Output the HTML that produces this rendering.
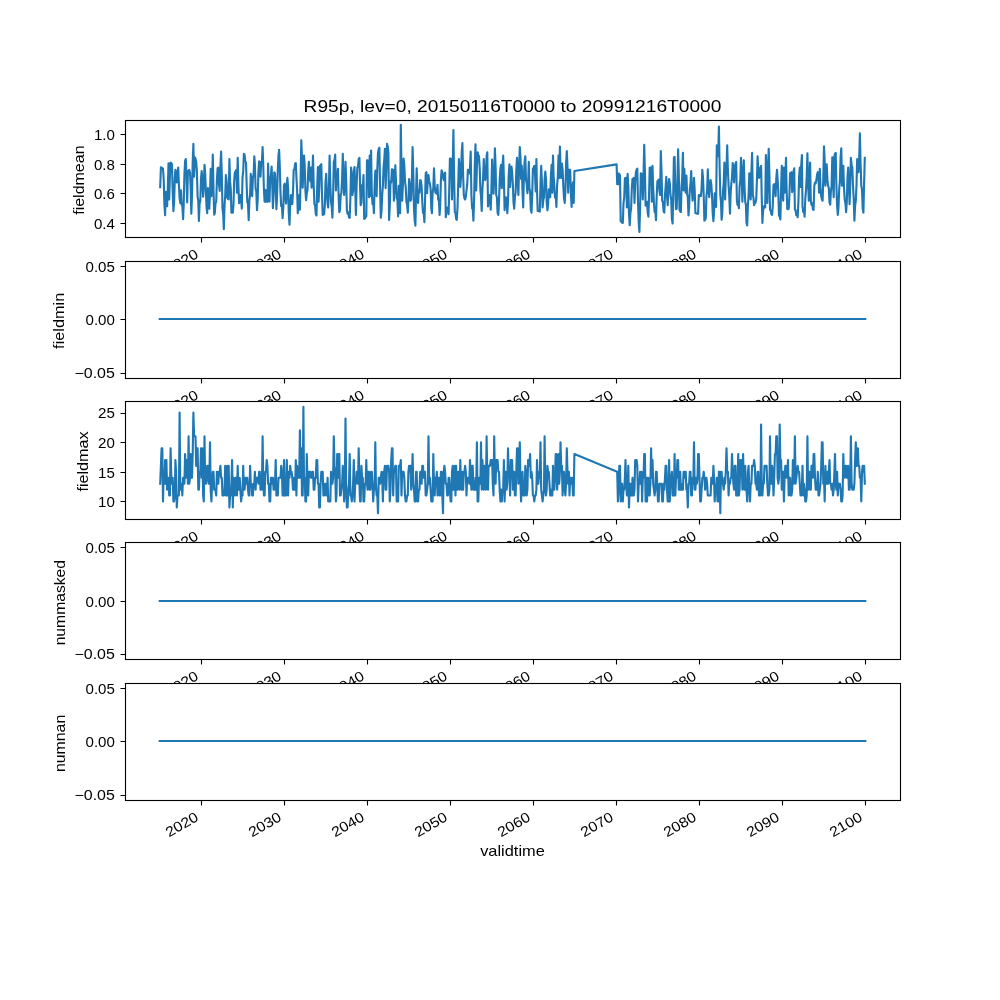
<!DOCTYPE html>
<html><head><meta charset="utf-8"><title>R95p</title>
<style>html,body{margin:0;padding:0;background:#fff}svg{display:block;will-change:transform}text{font-family:"Liberation Sans",sans-serif;fill:#000}.f{fill:none;stroke:#000;stroke-width:1.11}.d{fill:none;stroke:#1f77b4;stroke-linejoin:round;stroke-linecap:square}</style></head><body>
<svg width="1000" height="1000" viewBox="0 0 1000 1000">
<rect width="1000" height="1000" fill="#fff"/>
<g id="ax0">
<rect x="125.5" y="120.5" width="775.0" height="117.0" fill="#fff"/>
<path class="d" stroke-width="2.12" d="M160.2 187.2 160.9 167.4 161.6 167.5 162.3 168.4 163.0 168.5 163.7 179.1 164.4 204.7 165.1 215.2 165.8 191.8 166.4 202.1 167.1 206.1 167.8 189.7 168.5 163.3 169.2 199.5 169.9 176.1 170.6 162.6 171.3 163.1 172.0 164.4 172.7 192.8 173.4 211.2 174.1 202.4 174.8 178.6 175.4 169.9 176.1 173.4 176.8 182.4 177.5 171.8 178.2 167.6 178.9 184.5 179.6 197.9 180.3 203.2 181.0 190.4 181.7 205.0 182.3 204.6 183.1 219.1 183.7 204.7 184.4 175.2 185.1 160.8 185.8 159.1 186.5 175.7 187.2 202.4 187.9 172.2 188.6 170.5 189.3 169.9 190.0 172.7 190.7 188.2 191.3 213.8 192.0 195.4 192.7 162.0 193.4 143.7 194.1 176.7 194.8 157.3 195.5 158.6 196.2 161.9 196.9 171.7 197.6 196.4 198.3 201.2 198.9 220.9 199.6 203.5 200.3 201.0 201.0 178.5 201.7 171.0 202.4 178.8 203.1 196.7 203.8 185.7 204.5 164.8 205.2 173.7 205.9 192.7 206.6 207.4 207.2 213.2 207.9 188.1 208.6 202.9 209.3 208.6 210.0 193.7 210.7 168.7 211.4 196.1 212.1 180.3 212.8 154.5 213.5 189.5 214.2 214.6 214.8 213.1 215.5 203.2 216.2 201.8 216.9 180.0 217.6 168.2 218.3 167.6 219.0 184.3 219.7 191.0 220.4 166.3 221.1 151.6 221.8 175.1 222.5 208.6 223.2 214.4 223.8 229.2 224.5 206.4 225.2 195.7 225.9 175.0 226.6 181.4 227.3 197.8 228.0 199.0 228.7 199.5 229.4 159.1 230.1 181.9 230.8 189.8 231.4 212.6 232.1 212.6 232.8 212.6 233.5 204.1 234.2 180.7 234.9 172.2 235.6 171.5 236.3 169.9 237.0 192.7 237.7 157.9 238.4 185.5 239.1 203.2 239.7 200.9 240.4 195.0 241.1 198.8 241.8 208.6 242.5 177.9 243.2 170.9 243.9 153.9 244.6 154.9 245.3 161.5 246.0 162.5 246.7 185.8 247.3 202.3 248.0 203.8 248.7 220.3 249.4 199.8 250.1 194.3 250.8 173.9 251.5 189.9 252.2 196.1 252.9 177.8 253.6 174.5 254.3 156.2 254.9 164.7 255.6 188.3 256.3 191.8 257.0 210.3 257.7 199.0 258.4 172.7 259.1 161.3 259.8 172.4 260.5 176.7 261.2 161.8 261.9 162.0 262.6 147.1 263.2 163.2 263.9 189.3 264.6 201.8 265.3 189.8 266.0 201.8 266.7 190.4 267.4 201.8 268.1 163.6 268.8 187.7 269.5 201.8 270.2 179.0 270.9 175.5 271.6 166.5 272.2 182.3 272.9 208.1 273.6 195.1 274.3 172.2 275.0 173.3 275.7 186.2 276.4 209.2 277.1 194.6 277.8 169.9 278.5 155.5 279.1 149.9 279.8 166.3 280.5 192.7 281.2 206.2 281.9 204.8 282.6 218.3 283.3 207.1 284.0 185.8 284.7 183.6 285.4 197.9 286.1 203.5 286.8 185.7 287.4 177.9 288.1 188.4 288.8 214.0 289.5 224.6 290.2 204.8 290.9 195.0 291.6 201.5 292.3 204.1 293.0 192.0 293.7 169.9 294.4 169.1 295.1 163.8 295.8 163.0 296.4 176.7 297.1 190.0 297.8 213.2 298.5 200.1 299.2 195.0 299.9 209.8 300.6 180.0 301.3 140.2 302.0 158.9 302.7 187.6 303.4 166.6 304.0 155.6 304.7 165.4 305.4 190.3 306.1 200.1 306.8 193.1 307.5 190.4 308.2 171.2 308.9 161.9 309.6 175.8 310.3 181.3 311.0 167.6 311.6 187.6 312.3 176.6 313.0 155.6 313.7 184.9 314.4 204.1 315.1 205.4 315.8 214.2 316.5 215.5 317.2 186.2 317.9 167.0 318.6 201.8 319.2 188.8 319.9 165.9 320.6 165.4 321.3 164.2 322.0 194.6 322.7 214.9 323.4 214.5 324.1 214.3 324.8 205.8 325.5 182.4 326.2 173.9 326.9 195.0 327.6 204.0 328.2 207.5 328.9 186.6 329.6 155.6 330.3 183.7 331.0 201.8 331.7 206.3 332.4 217.8 333.1 194.8 333.8 161.9 334.5 159.8 335.2 154.5 335.9 190.4 336.5 178.4 337.2 180.7 337.9 168.7 338.6 195.4 339.3 212.1 340.0 209.9 340.7 194.9 341.4 192.7 342.1 178.3 342.8 153.9 343.4 179.4 344.1 195.0 344.8 183.4 345.5 161.9 346.2 181.1 346.9 210.3 347.6 213.8 348.3 212.4 349.0 217.5 349.7 217.8 350.4 197.7 351.1 167.6 351.8 176.3 352.4 195.0 353.1 190.7 353.8 171.3 354.5 167.0 355.2 186.0 355.9 214.9 356.6 186.2 357.3 167.6 358.0 166.5 358.7 159.0 359.4 157.9 360.1 186.6 360.7 205.2 361.4 202.7 362.1 185.1 362.8 187.6 363.5 175.0 364.2 218.9 364.9 218.6 365.6 216.9 366.3 216.6 367.0 160.2 367.6 160.6 368.3 160.8 369.0 197.2 369.7 155.6 370.4 196.1 371.1 150.5 371.8 192.7 372.5 204.0 373.2 201.8 373.9 213.2 374.6 187.1 375.3 171.0 375.9 170.4 376.6 196.1 377.3 169.4 378.0 152.8 378.7 149.1 379.4 147.7 380.1 187.7 380.8 217.8 381.5 211.4 382.2 195.0 382.9 185.7 383.6 166.5 384.2 161.5 384.9 148.8 385.6 188.1 386.3 170.9 387.0 143.7 387.7 146.2 388.4 152.8 389.1 220.0 389.8 205.7 390.5 181.3 391.2 182.4 391.9 169.3 392.5 169.5 393.2 169.9 393.9 200.7 394.6 188.0 395.3 165.3 396.0 181.3 396.7 198.0 397.4 199.7 398.1 216.4 398.8 185.8 399.5 204.5 400.1 213.2 400.8 124.8 401.5 167.8 402.2 200.7 402.9 184.6 403.6 158.5 404.3 164.9 405.0 181.3 405.7 187.0 406.4 201.8 407.1 204.8 407.8 212.6 408.4 200.8 409.1 179.0 409.8 185.1 410.5 200.7 411.2 199.5 411.9 178.3 412.6 147.1 413.3 172.9 414.0 208.6 414.7 220.9 415.4 225.7 416.1 191.9 416.7 168.2 417.4 190.6 418.1 202.9 418.8 190.3 419.5 192.7 420.2 180.1 420.9 180.7 421.6 186.6 422.3 201.8 423.0 213.0 423.6 210.9 424.4 222.1 425.0 202.7 425.7 173.3 426.4 172.2 427.1 193.2 427.8 180.1 428.5 175.0 429.2 181.2 429.9 183.6 430.6 188.4 431.3 208.3 431.9 213.2 432.6 193.2 433.3 188.2 434.0 168.2 434.7 185.4 435.4 192.7 436.1 193.0 436.8 193.8 437.5 184.7 438.2 199.8 438.9 199.8 439.6 214.9 440.2 205.1 440.9 180.3 441.6 170.4 442.3 172.2 443.0 176.7 443.7 180.1 444.4 174.8 445.1 172.7 445.8 217.2 446.5 210.2 447.2 207.5 447.9 209.4 448.6 214.3 449.2 191.4 449.9 158.5 450.6 158.6 451.3 159.1 452.0 199.5 452.7 169.8 453.4 130.0 454.1 176.0 454.8 212.1 455.5 212.9 456.1 218.9 456.8 219.8 457.5 207.8 458.2 185.8 458.9 159.1 459.6 168.0 460.3 187.0 461.0 177.3 461.7 152.7 462.4 143.1 463.1 174.0 463.8 195.0 464.4 198.2 465.1 199.5 465.8 197.0 466.5 190.4 467.2 184.7 467.9 169.9 468.6 172.3 469.3 173.3 470.0 167.2 470.7 151.6 471.4 195.0 472.1 208.5 472.7 207.1 473.4 220.6 474.1 200.2 474.8 164.7 475.5 144.2 476.2 190.4 476.9 166.3 477.6 152.2 478.3 155.1 479.0 156.2 479.7 168.3 480.4 190.4 481.0 196.2 481.7 210.9 482.4 189.4 483.1 177.9 483.8 159.1 484.5 174.2 485.2 180.1 485.9 175.8 486.6 156.5 487.3 152.2 488.0 206.4 488.6 198.2 489.3 195.0 490.0 199.1 490.7 209.8 491.4 189.7 492.1 159.6 492.8 181.7 493.5 193.8 494.2 176.0 494.9 148.2 495.6 166.6 496.2 195.0 496.9 197.2 497.6 212.7 498.3 214.9 499.0 201.9 499.7 179.0 500.4 168.7 501.1 164.8 501.8 188.1 502.5 166.9 503.2 155.6 503.9 178.0 504.6 210.3 505.2 200.9 505.9 197.2 506.6 201.7 507.3 213.2 508.0 201.9 508.7 175.5 509.4 164.2 510.1 187.0 510.8 172.2 511.5 166.5 512.1 171.9 512.9 185.8 513.5 202.2 514.2 208.6 514.9 197.2 515.6 192.7 516.3 170.3 517.0 157.9 517.7 181.4 518.4 195.0 519.1 166.0 519.8 147.1 520.5 158.0 521.1 179.0 521.8 165.9 522.5 191.7 523.2 207.5 523.9 176.7 524.6 161.9 525.3 156.2 526.0 180.1 526.7 183.8 527.4 193.2 528.1 182.6 528.8 161.9 529.4 188.1 530.1 191.3 530.8 209.5 531.5 212.6 532.2 195.7 532.9 168.7 533.6 167.9 534.3 165.9 535.0 173.7 535.7 191.5 536.4 159.1 537.0 190.0 537.7 210.9 538.4 211.0 539.1 211.4 539.8 211.5 540.5 183.7 541.2 165.9 541.9 181.7 542.6 207.5 543.3 200.1 544.0 197.2 544.6 179.4 545.3 171.6 546.0 179.5 546.7 202.4 547.4 210.3 548.1 204.4 548.8 189.3 549.5 191.5 550.2 197.2 550.9 176.0 551.6 164.8 552.3 192.7 553.0 155.6 553.6 175.7 554.3 185.8 555.0 197.5 555.7 195.3 556.4 206.9 557.1 184.8 557.8 177.7 558.5 155.6 559.2 177.9 559.9 146.5 560.5 167.2 561.2 177.9 561.9 163.6 562.6 169.8 563.3 185.8 564.0 198.2 564.7 202.9 565.4 190.7 566.1 163.4 566.8 151.1 567.5 166.9 568.2 192.7 568.9 169.9 569.5 169.9 570.2 169.9 570.9 193.4 571.6 206.9 572.3 189.7 573.0 182.4 573.7 202.9 574.4 171.0 616.6 164.4 617.2 184.1 617.9 173.3 618.6 184.1 619.3 173.9 620.0 175.6 620.7 221.2 621.4 221.4 622.1 222.7 622.8 222.9 623.5 203.1 624.2 198.2 624.9 178.4 625.5 178.0 626.2 177.9 626.9 207.5 627.6 173.9 628.3 186.0 629.0 213.1 629.7 225.2 630.4 213.3 631.1 208.6 631.8 188.8 632.5 179.0 633.1 178.7 633.8 177.9 634.5 202.9 635.2 182.6 635.9 172.2 636.6 169.7 637.3 168.7 638.0 201.8 638.7 221.9 639.4 232.0 640.1 207.7 640.8 173.3 641.5 173.6 642.1 174.4 642.8 199.5 643.5 177.2 644.2 144.8 644.9 170.3 645.6 205.8 646.3 204.7 647.0 201.8 647.7 212.5 648.4 216.6 649.0 197.1 649.7 167.6 650.4 167.6 651.1 167.6 651.8 201.8 652.5 165.9 653.2 188.8 653.9 201.8 654.6 212.0 655.3 210.1 656.0 220.3 656.7 195.8 657.4 181.3 658.0 180.8 658.7 179.6 659.4 190.7 660.1 195.0 660.8 151.1 661.5 170.9 662.2 200.7 662.9 202.0 663.6 211.3 664.3 212.6 665.0 194.8 665.6 187.0 666.3 176.7 667.0 196.0 667.7 205.2 668.4 187.1 669.1 179.0 669.8 183.5 670.5 195.0 671.2 199.5 671.9 219.0 672.6 223.5 673.2 195.4 673.9 157.3 674.6 156.8 675.3 188.0 676.0 209.2 676.7 208.6 677.4 184.0 678.1 149.4 678.8 174.6 679.5 209.8 680.2 211.4 680.9 212.1 681.5 187.3 682.2 177.5 682.9 152.8 683.6 190.4 684.3 168.7 685.0 185.7 685.7 192.7 686.4 175.6 687.1 193.9 687.8 197.2 688.5 215.5 689.1 207.4 689.8 189.3 690.5 184.2 691.2 171.0 691.9 190.8 692.6 200.7 693.3 194.3 694.0 177.9 694.7 190.5 695.4 213.2 696.1 213.2 696.8 213.6 697.5 213.5 698.1 213.8 698.8 195.0 699.5 195.1 700.2 196.0 700.9 196.1 701.6 188.0 702.3 169.9 703.0 177.4 703.7 195.0 704.4 220.6 705.1 219.8 705.8 217.8 706.4 196.6 707.1 190.5 707.8 169.3 708.5 188.3 709.2 197.2 709.9 184.9 710.6 180.1 711.3 184.3 712.0 195.0 712.7 213.1 713.4 221.2 714.0 212.2 714.7 193.2 715.4 203.1 716.1 206.9 716.8 145.4 717.5 148.4 718.2 156.2 718.9 126.6 719.6 165.8 720.3 195.0 721.0 202.4 721.6 219.8 722.3 212.7 723.0 190.6 723.7 183.6 724.4 162.5 725.1 199.5 725.8 176.5 726.5 168.4 727.2 145.4 727.9 170.6 728.6 185.8 729.2 194.8 730.0 213.8 730.6 193.7 731.3 183.6 732.0 177.8 732.7 163.0 733.4 168.5 734.1 182.4 734.8 167.6 735.5 163.5 736.2 161.9 736.9 200.7 737.5 204.8 738.2 204.0 738.9 208.1 739.6 186.3 740.3 179.6 741.0 157.9 741.7 174.9 742.4 201.8 743.1 176.0 743.8 160.2 744.5 186.0 745.2 201.8 745.9 204.7 746.5 222.6 747.2 225.5 747.9 205.2 748.6 195.0 749.3 173.3 750.0 191.4 750.7 199.5 751.4 171.2 752.1 152.8 752.8 195.0 753.5 197.8 754.1 205.2 754.8 202.1 755.5 202.7 756.2 199.5 756.9 181.3 757.6 156.2 758.3 171.8 759.0 177.9 759.7 176.5 760.4 167.2 761.1 165.9 761.8 199.4 762.4 222.9 763.1 211.0 763.8 206.4 764.5 206.7 765.2 207.5 765.9 155.1 766.6 174.0 767.3 202.9 768.0 170.9 768.7 148.8 769.4 174.3 770.0 209.8 770.7 210.4 771.4 214.3 772.1 214.9 772.8 205.1 773.5 185.3 774.2 184.1 774.9 187.5 775.6 196.1 776.3 178.0 777.0 169.9 777.6 179.0 778.3 192.2 779.0 215.5 779.7 216.6 780.4 219.5 781.1 187.7 781.8 165.9 782.5 188.3 783.2 200.7 783.9 167.6 784.6 192.7 785.3 180.3 786.0 157.9 786.6 188.6 787.3 209.2 788.0 209.1 788.7 208.6 789.4 196.0 790.1 173.3 790.8 173.0 791.5 172.2 792.2 192.1 792.9 189.1 793.6 171.2 794.2 168.2 794.9 209.8 795.6 210.0 796.3 215.1 797.0 213.7 797.7 217.2 798.4 201.9 799.1 176.7 799.8 167.6 800.5 187.0 801.2 166.0 801.9 155.1 802.5 205.8 803.2 211.8 803.9 210.6 804.6 216.6 805.3 198.5 806.0 190.4 806.7 176.9 807.4 153.3 808.1 182.0 808.8 200.7 809.5 176.6 810.1 162.5 810.8 200.7 811.5 204.9 812.2 203.2 812.9 209.5 813.6 209.8 814.3 185.8 815.0 182.7 815.7 183.3 816.4 180.1 817.1 174.4 817.8 172.2 818.5 177.9 819.1 192.7 819.8 168.7 820.5 187.4 821.2 196.1 821.9 199.4 822.6 200.7 823.3 178.4 824.0 146.2 824.7 161.0 825.4 185.8 826.0 170.2 826.7 164.2 827.4 179.8 828.1 185.8 828.8 188.0 829.5 202.5 830.2 204.7 830.9 191.1 831.6 185.8 832.3 157.3 833.0 182.3 833.7 197.2 834.4 156.2 835.0 153.7 835.7 152.8 836.4 185.8 837.1 205.4 837.8 214.9 838.5 207.1 839.2 189.3 839.9 180.6 840.6 156.9 841.3 148.2 842.0 185.8 842.6 171.5 843.3 165.9 844.0 187.7 844.7 199.5 845.4 203.0 846.1 212.1 846.8 202.2 847.5 177.4 848.2 167.6 848.9 185.8 849.6 204.1 850.2 186.0 850.9 157.9 851.6 164.9 852.3 167.6 853.0 185.8 853.7 198.2 854.4 220.6 855.1 206.2 855.8 200.7 856.5 184.9 857.2 159.1 857.9 162.7 858.5 172.2 859.2 157.8 859.9 133.4 860.6 164.6 861.3 185.8 862.0 189.8 862.7 208.7 863.4 212.6 864.1 183.6 864.8 157.9"/>
<rect class="f" x="125.5" y="120.5" width="775.0" height="117.0"/>
<path class="f" d="M125.5 134.5h-5 M125.5 164.5h-5 M125.5 193.5h-5 M125.5 223.5h-5"/>
<text x="93.92" y="139.65" font-size="14.1" textLength="20.98" lengthAdjust="spacingAndGlyphs">1.0</text>
<text x="93.92" y="169.65" font-size="14.1" textLength="20.98" lengthAdjust="spacingAndGlyphs">0.8</text>
<text x="93.92" y="198.65" font-size="14.1" textLength="20.98" lengthAdjust="spacingAndGlyphs">0.6</text>
<text x="93.92" y="228.65" font-size="14.1" textLength="20.98" lengthAdjust="spacingAndGlyphs">0.4</text>
<text transform="translate(84.00 180.12) rotate(-90)" x="-34.68" y="0" font-size="14.1" textLength="69.36" lengthAdjust="spacingAndGlyphs">fieldmean</text>
<path class="f" d="M201.5 237.5v5 M284.5 237.5v5 M367.5 237.5v5 M450.5 237.5v5 M533.5 237.5v5 M616.5 237.5v5 M699.5 237.5v5 M782.5 237.5v5 M865.5 237.5v5"/>
<text transform="translate(199.50 256.80) rotate(-30)" x="-35.35" y="0" font-size="14.1" textLength="35.35" lengthAdjust="spacingAndGlyphs">2020</text>
<text transform="translate(282.50 256.80) rotate(-30)" x="-35.35" y="0" font-size="14.1" textLength="35.35" lengthAdjust="spacingAndGlyphs">2030</text>
<text transform="translate(365.50 256.80) rotate(-30)" x="-35.35" y="0" font-size="14.1" textLength="35.35" lengthAdjust="spacingAndGlyphs">2040</text>
<text transform="translate(448.50 256.80) rotate(-30)" x="-35.35" y="0" font-size="14.1" textLength="35.35" lengthAdjust="spacingAndGlyphs">2050</text>
<text transform="translate(531.50 256.80) rotate(-30)" x="-35.35" y="0" font-size="14.1" textLength="35.35" lengthAdjust="spacingAndGlyphs">2060</text>
<text transform="translate(614.50 256.80) rotate(-30)" x="-35.35" y="0" font-size="14.1" textLength="35.35" lengthAdjust="spacingAndGlyphs">2070</text>
<text transform="translate(697.50 256.80) rotate(-30)" x="-35.35" y="0" font-size="14.1" textLength="35.35" lengthAdjust="spacingAndGlyphs">2080</text>
<text transform="translate(780.50 256.80) rotate(-30)" x="-35.35" y="0" font-size="14.1" textLength="35.35" lengthAdjust="spacingAndGlyphs">2090</text>
<text transform="translate(863.50 256.80) rotate(-30)" x="-35.35" y="0" font-size="14.1" textLength="35.35" lengthAdjust="spacingAndGlyphs">2100</text>
</g>
<g id="ax1">
<rect x="125.5" y="261.5" width="775.0" height="117.0" fill="#fff"/>
<path class="d" stroke-width="2.12" d="M159.73 319.00H865.27"/>
<rect class="f" x="125.5" y="261.5" width="775.0" height="117.0"/>
<path class="f" d="M125.5 266.5h-5 M125.5 319.5h-5 M125.5 373.5h-5"/>
<text x="85.52" y="271.65" font-size="14.1" textLength="29.38" lengthAdjust="spacingAndGlyphs">0.05</text>
<text x="85.52" y="324.65" font-size="14.1" textLength="29.38" lengthAdjust="spacingAndGlyphs">0.00</text>
<text x="74.46" y="377.65" font-size="14.1" textLength="40.44" lengthAdjust="spacingAndGlyphs">−0.05</text>
<text transform="translate(63.60 320.81) rotate(-90)" x="-28.08" y="0" font-size="14.1" textLength="56.16" lengthAdjust="spacingAndGlyphs">fieldmin</text>
<path class="f" d="M201.5 378.5v5 M284.5 378.5v5 M367.5 378.5v5 M450.5 378.5v5 M533.5 378.5v5 M616.5 378.5v5 M699.5 378.5v5 M782.5 378.5v5 M865.5 378.5v5"/>
<text transform="translate(199.50 397.80) rotate(-30)" x="-35.35" y="0" font-size="14.1" textLength="35.35" lengthAdjust="spacingAndGlyphs">2020</text>
<text transform="translate(282.50 397.80) rotate(-30)" x="-35.35" y="0" font-size="14.1" textLength="35.35" lengthAdjust="spacingAndGlyphs">2030</text>
<text transform="translate(365.50 397.80) rotate(-30)" x="-35.35" y="0" font-size="14.1" textLength="35.35" lengthAdjust="spacingAndGlyphs">2040</text>
<text transform="translate(448.50 397.80) rotate(-30)" x="-35.35" y="0" font-size="14.1" textLength="35.35" lengthAdjust="spacingAndGlyphs">2050</text>
<text transform="translate(531.50 397.80) rotate(-30)" x="-35.35" y="0" font-size="14.1" textLength="35.35" lengthAdjust="spacingAndGlyphs">2060</text>
<text transform="translate(614.50 397.80) rotate(-30)" x="-35.35" y="0" font-size="14.1" textLength="35.35" lengthAdjust="spacingAndGlyphs">2070</text>
<text transform="translate(697.50 397.80) rotate(-30)" x="-35.35" y="0" font-size="14.1" textLength="35.35" lengthAdjust="spacingAndGlyphs">2080</text>
<text transform="translate(780.50 397.80) rotate(-30)" x="-35.35" y="0" font-size="14.1" textLength="35.35" lengthAdjust="spacingAndGlyphs">2090</text>
<text transform="translate(863.50 397.80) rotate(-30)" x="-35.35" y="0" font-size="14.1" textLength="35.35" lengthAdjust="spacingAndGlyphs">2100</text>
</g>
<g id="ax2">
<rect x="125.5" y="401.5" width="775.0" height="118.0" fill="#fff"/>
<path class="d" stroke-width="2.12" d="M160.2 483.7 160.9 465.9 161.6 448.2 162.3 448.2 163.0 501.4 163.7 471.8 164.4 483.7 165.1 460.0 165.8 483.7 166.4 460.0 167.1 489.6 167.8 477.8 168.5 477.8 169.2 495.5 169.9 495.5 170.6 448.2 171.3 477.8 172.0 483.7 172.7 477.8 173.4 501.4 174.1 501.4 174.8 495.5 175.4 460.0 176.1 471.8 176.8 507.4 177.5 495.5 178.2 495.5 178.9 495.5 179.6 412.6 180.3 489.6 181.0 489.6 181.7 483.7 182.3 495.5 183.1 477.8 183.7 483.7 184.4 483.7 185.1 454.1 185.8 477.8 186.5 460.0 187.2 460.0 187.9 483.7 188.6 436.3 189.3 483.7 190.0 477.8 190.7 454.1 191.3 477.8 192.0 477.8 192.7 454.1 193.4 412.6 194.1 436.3 194.8 436.3 195.5 436.3 196.2 465.9 196.9 448.2 197.6 448.2 198.3 489.6 198.9 489.6 199.6 471.8 200.3 471.8 201.0 448.2 201.7 477.8 202.4 448.2 203.1 495.5 203.8 501.4 204.5 436.3 205.2 483.7 205.9 483.7 206.6 477.8 207.2 465.9 207.9 465.9 208.6 483.7 209.3 483.7 210.0 442.2 210.7 489.6 211.4 501.4 212.1 483.7 212.8 471.8 213.5 471.8 214.2 489.6 214.8 489.6 215.5 489.6 216.2 495.5 216.9 471.8 217.6 471.8 218.3 483.7 219.0 471.8 219.7 471.8 220.4 465.9 221.1 477.8 221.8 477.8 222.5 495.5 223.2 495.5 223.8 495.5 224.5 489.6 225.2 465.9 225.9 495.5 226.6 495.5 227.3 465.9 228.0 495.5 228.7 465.9 229.4 507.4 230.1 495.5 230.8 495.5 231.4 483.7 232.1 460.0 232.8 507.4 233.5 477.8 234.2 495.5 234.9 495.5 235.6 477.8 236.3 477.8 237.0 495.5 237.7 465.9 238.4 489.6 239.1 489.6 239.7 477.8 240.4 489.6 241.1 501.4 241.8 495.5 242.5 495.5 243.2 465.9 243.9 489.6 244.6 489.6 245.3 477.8 246.0 477.8 246.7 483.7 247.3 477.8 248.0 489.6 248.7 495.5 249.4 495.5 250.1 465.9 250.8 483.7 251.5 483.7 252.2 495.5 252.9 495.5 253.6 483.7 254.3 483.7 254.9 471.8 255.6 489.6 256.3 477.8 257.0 477.8 257.7 477.8 258.4 483.7 259.1 471.8 259.8 471.8 260.5 489.6 261.2 489.6 261.9 489.6 262.6 436.3 263.2 477.8 263.9 495.5 264.6 495.5 265.3 471.8 266.0 471.8 266.7 460.0 267.4 465.9 268.1 483.7 268.8 483.7 269.5 501.4 270.2 501.4 270.9 477.8 271.6 477.8 272.2 483.7 272.9 477.8 273.6 489.6 274.3 489.6 275.0 483.7 275.7 460.0 276.4 495.5 277.1 495.5 277.8 495.5 278.5 477.8 279.1 477.8 279.8 477.8 280.5 477.8 281.2 465.9 281.9 471.8 282.6 495.5 283.3 495.5 284.0 460.0 284.7 495.5 285.4 495.5 286.1 495.5 286.8 460.0 287.4 489.6 288.1 495.5 288.8 471.8 289.5 477.8 290.2 465.9 290.9 471.8 291.6 471.8 292.3 477.8 293.0 489.6 293.7 477.8 294.4 489.6 295.1 489.6 295.8 460.0 296.4 495.5 297.1 465.9 297.8 477.8 298.5 477.8 299.2 477.8 299.9 430.4 300.6 477.8 301.3 448.2 302.0 495.5 302.7 495.5 303.4 406.7 304.0 483.7 304.7 477.8 305.4 501.4 306.1 501.4 306.8 454.1 307.5 483.7 308.2 495.5 308.9 471.8 309.6 471.8 310.3 471.8 311.0 477.8 311.6 477.8 312.3 471.8 313.0 471.8 313.7 489.6 314.4 489.6 315.1 477.8 315.8 477.8 316.5 460.0 317.2 460.0 317.9 483.7 318.6 483.7 319.2 507.4 319.9 507.4 320.6 483.7 321.3 471.8 322.0 471.8 322.7 471.8 323.4 495.5 324.1 495.5 324.8 483.7 325.5 483.7 326.2 495.5 326.9 495.5 327.6 477.8 328.2 501.4 328.9 501.4 329.6 501.4 330.3 501.4 331.0 471.8 331.7 483.7 332.4 483.7 333.1 477.8 333.8 436.3 334.5 465.9 335.2 471.8 335.9 501.4 336.5 495.5 337.2 454.1 337.9 477.8 338.6 454.1 339.3 454.1 340.0 495.5 340.7 495.5 341.4 489.6 342.1 483.7 342.8 465.9 343.4 471.8 344.1 501.4 344.8 489.6 345.5 418.6 346.2 489.6 346.9 507.4 347.6 507.4 348.3 489.6 349.0 483.7 349.7 454.1 350.4 495.5 351.1 495.5 351.8 501.4 352.4 495.5 353.1 483.7 353.8 460.0 354.5 501.4 355.2 483.7 355.9 483.7 356.6 471.8 357.3 477.8 358.0 483.7 358.7 448.2 359.4 483.7 360.1 501.4 360.7 501.4 361.4 465.9 362.1 477.8 362.8 477.8 363.5 501.4 364.2 501.4 364.9 483.7 365.6 483.7 366.3 460.0 367.0 483.7 367.6 489.6 368.3 471.8 369.0 471.8 369.7 489.6 370.4 489.6 371.1 471.8 371.8 471.8 372.5 483.7 373.2 501.4 373.9 489.6 374.6 489.6 375.3 442.2 375.9 483.7 376.6 495.5 377.3 495.5 378.0 513.3 378.7 477.8 379.4 477.8 380.1 483.7 380.8 477.8 381.5 471.8 382.2 477.8 382.9 501.4 383.6 471.8 384.2 471.8 384.9 465.9 385.6 489.6 386.3 489.6 387.0 465.9 387.7 465.9 388.4 465.9 389.1 471.8 389.8 501.4 390.5 489.6 391.2 460.0 391.9 448.2 392.5 448.2 393.2 495.5 393.9 471.8 394.6 471.8 395.3 465.9 396.0 465.9 396.7 501.4 397.4 501.4 398.1 501.4 398.8 465.9 399.5 465.9 400.1 465.9 400.8 460.0 401.5 495.5 402.2 471.8 402.9 471.8 403.6 471.8 404.3 477.8 405.0 495.5 405.7 501.4 406.4 501.4 407.1 495.5 407.8 495.5 408.4 471.8 409.1 465.9 409.8 471.8 410.5 465.9 411.2 489.6 411.9 477.8 412.6 454.1 413.3 483.7 414.0 489.6 414.7 501.4 415.4 501.4 416.1 471.8 416.7 471.8 417.4 501.4 418.1 501.4 418.8 489.6 419.5 489.6 420.2 471.8 420.9 471.8 421.6 483.7 422.3 465.9 423.0 465.9 423.6 477.8 424.4 471.8 425.0 471.8 425.7 495.5 426.4 495.5 427.1 489.6 427.8 483.7 428.5 436.3 429.2 483.7 429.9 477.8 430.6 489.6 431.3 501.4 431.9 501.4 432.6 501.4 433.3 454.1 434.0 483.7 434.7 495.5 435.4 477.8 436.1 483.7 436.8 471.8 437.5 495.5 438.2 477.8 438.9 477.8 439.6 495.5 440.2 495.5 440.9 471.8 441.6 471.8 442.3 495.5 443.0 513.3 443.7 471.8 444.4 465.9 445.1 471.8 445.8 483.7 446.5 483.7 447.2 495.5 447.9 495.5 448.6 477.8 449.2 477.8 449.9 489.6 450.6 501.4 451.3 501.4 452.0 471.8 452.7 465.9 453.4 489.6 454.1 489.6 454.8 465.9 455.5 495.5 456.1 465.9 456.8 489.6 457.5 489.6 458.2 471.8 458.9 471.8 459.6 489.6 460.3 460.0 461.0 483.7 461.7 489.6 462.4 471.8 463.1 489.6 463.8 471.8 464.4 471.8 465.1 465.9 465.8 471.8 466.5 495.5 467.2 477.8 467.9 477.8 468.6 477.8 469.3 483.7 470.0 460.0 470.7 477.8 471.4 489.6 472.1 465.9 472.7 465.9 473.4 489.6 474.1 489.6 474.8 489.6 475.5 477.8 476.2 489.6 476.9 442.2 477.6 501.4 478.3 501.4 479.0 477.8 479.7 477.8 480.4 483.7 481.0 442.2 481.7 489.6 482.4 460.0 483.1 477.8 483.8 489.6 484.5 465.9 485.2 465.9 485.9 489.6 486.6 436.3 487.3 477.8 488.0 489.6 488.6 465.9 489.3 465.9 490.0 465.9 490.7 460.0 491.4 460.0 492.1 460.0 492.8 483.7 493.5 495.5 494.2 436.3 494.9 477.8 495.6 483.7 496.2 460.0 496.9 460.0 497.6 460.0 498.3 471.8 499.0 471.8 499.7 489.6 500.4 501.4 501.1 489.6 501.8 501.4 502.5 489.6 503.2 489.6 503.9 460.0 504.6 501.4 505.2 483.7 505.9 471.8 506.6 489.6 507.3 483.7 508.0 448.2 508.7 471.8 509.4 471.8 510.1 495.5 510.8 460.0 511.5 460.0 512.1 460.0 512.9 489.6 513.5 471.8 514.2 471.8 514.9 495.5 515.6 495.5 516.3 471.8 517.0 448.2 517.7 448.2 518.4 483.7 519.1 477.8 519.8 442.2 520.5 483.7 521.1 501.4 521.8 477.8 522.5 471.8 523.2 495.5 523.9 495.5 524.6 495.5 525.3 465.9 526.0 471.8 526.7 495.5 527.4 489.6 528.1 460.0 528.8 460.0 529.4 465.9 530.1 454.1 530.8 477.8 531.5 471.8 532.2 477.8 532.9 495.5 533.6 495.5 534.3 501.4 535.0 495.5 535.7 495.5 536.4 489.6 537.0 460.0 537.7 483.7 538.4 483.7 539.1 471.8 539.8 477.8 540.5 442.2 541.2 489.6 541.9 495.5 542.6 501.4 543.3 495.5 544.0 489.6 544.6 436.3 545.3 483.7 546.0 495.5 546.7 489.6 547.4 465.9 548.1 471.8 548.8 471.8 549.5 483.7 550.2 495.5 550.9 495.5 551.6 489.6 552.3 495.5 553.0 465.9 553.6 489.6 554.3 489.6 555.0 477.8 555.7 454.1 556.4 454.1 557.1 489.6 557.8 477.8 558.5 454.1 559.2 483.7 559.9 471.8 560.5 442.2 561.2 465.9 561.9 465.9 562.6 495.5 563.3 471.8 564.0 471.8 564.7 489.6 565.4 495.5 566.1 483.7 566.8 448.2 567.5 471.8 568.2 483.7 568.9 471.8 569.5 495.5 570.2 477.8 570.9 477.8 571.6 483.7 572.3 477.8 573.0 495.5 573.7 495.5 574.4 454.1 617.2 471.8 617.9 501.4 618.6 489.6 619.3 465.9 620.0 465.9 620.7 501.4 621.4 483.7 622.1 483.7 622.8 501.4 623.5 489.6 624.2 489.6 624.9 477.8 625.5 460.0 626.2 483.7 626.9 495.5 627.6 495.5 628.3 465.9 629.0 507.4 629.7 483.7 630.4 483.7 631.1 495.5 631.8 495.5 632.5 477.8 633.1 495.5 633.8 495.5 634.5 489.6 635.2 460.0 635.9 465.9 636.6 460.0 637.3 465.9 638.0 501.4 638.7 483.7 639.4 483.7 640.1 471.8 640.8 483.7 641.5 471.8 642.1 501.4 642.8 477.8 643.5 477.8 644.2 454.1 644.9 454.1 645.6 501.4 646.3 477.8 647.0 501.4 647.7 477.8 648.4 477.8 649.0 495.5 649.7 495.5 650.4 483.7 651.1 448.2 651.8 477.8 652.5 460.0 653.2 483.7 653.9 489.6 654.6 495.5 655.3 489.6 656.0 471.8 656.7 471.8 657.4 489.6 658.0 501.4 658.7 501.4 659.4 483.7 660.1 483.7 660.8 483.7 661.5 483.7 662.2 501.4 662.9 501.4 663.6 483.7 664.3 489.6 665.0 477.8 665.6 465.9 666.3 465.9 667.0 489.6 667.7 501.4 668.4 501.4 669.1 460.0 669.8 501.4 670.5 477.8 671.2 477.8 671.9 471.8 672.6 495.5 673.2 495.5 673.9 495.5 674.6 454.1 675.3 495.5 676.0 477.8 676.7 477.8 677.4 460.0 678.1 460.0 678.8 489.6 679.5 489.6 680.2 471.8 680.9 489.6 681.5 489.6 682.2 483.7 682.9 489.6 683.6 471.8 684.3 471.8 685.0 477.8 685.7 471.8 686.4 489.6 687.1 489.6 687.8 507.4 688.5 483.7 689.1 483.7 689.8 471.8 690.5 471.8 691.2 495.5 691.9 495.5 692.6 477.8 693.3 483.7 694.0 442.2 694.7 489.6 695.4 489.6 696.1 477.8 696.8 483.7 697.5 477.8 698.1 454.1 698.8 454.1 699.5 477.8 700.2 501.4 700.9 501.4 701.6 489.6 702.3 477.8 703.0 477.8 703.7 471.8 704.4 477.8 705.1 489.6 705.8 483.7 706.4 477.8 707.1 483.7 707.8 495.5 708.5 495.5 709.2 495.5 709.9 495.5 710.6 495.5 711.3 477.8 712.0 483.7 712.7 483.7 713.4 465.9 714.0 477.8 714.7 501.4 715.4 489.6 716.1 489.6 716.8 477.8 717.5 501.4 718.2 501.4 718.9 471.8 719.6 471.8 720.3 513.3 721.0 471.8 721.6 471.8 722.3 483.7 723.0 483.7 723.7 489.6 724.4 477.8 725.1 483.7 725.8 471.8 726.5 448.2 727.2 471.8 727.9 471.8 728.6 495.5 729.2 483.7 730.0 483.7 730.6 477.8 731.3 477.8 732.0 454.1 732.7 471.8 733.4 483.7 734.1 489.6 734.8 465.9 735.5 465.9 736.2 495.5 736.9 489.6 737.5 495.5 738.2 454.1 738.9 495.5 739.6 489.6 740.3 460.0 741.0 465.9 741.7 460.0 742.4 489.6 743.1 454.1 743.8 483.7 744.5 489.6 745.2 465.9 745.9 489.6 746.5 489.6 747.2 501.4 747.9 471.8 748.6 465.9 749.3 489.6 750.0 501.4 750.7 483.7 751.4 483.7 752.1 465.9 752.8 465.9 753.5 465.9 754.1 460.0 754.8 465.9 755.5 483.7 756.2 483.7 756.9 489.6 757.6 471.8 758.3 471.8 759.0 495.5 759.7 495.5 760.4 495.5 761.1 424.5 761.8 489.6 762.4 495.5 763.1 483.7 763.8 483.7 764.5 465.9 765.2 465.9 765.9 465.9 766.6 465.9 767.3 483.7 768.0 495.5 768.7 495.5 769.4 489.6 770.0 436.3 770.7 483.7 771.4 483.7 772.1 465.9 772.8 471.8 773.5 495.5 774.2 477.8 774.9 454.1 775.6 454.1 776.3 436.3 777.0 436.3 777.6 477.8 778.3 483.7 779.0 477.8 779.7 424.5 780.4 465.9 781.1 460.0 781.8 489.6 782.5 471.8 783.2 471.8 783.9 501.4 784.6 477.8 785.3 465.9 786.0 465.9 786.6 477.8 787.3 477.8 788.0 460.0 788.7 495.5 789.4 477.8 790.1 477.8 790.8 495.5 791.5 495.5 792.2 489.6 792.9 460.0 793.6 483.7 794.2 477.8 794.9 436.3 795.6 483.7 796.3 477.8 797.0 471.8 797.7 465.9 798.4 471.8 799.1 471.8 799.8 483.7 800.5 495.5 801.2 495.5 801.9 489.6 802.5 465.9 803.2 495.5 803.9 483.7 804.6 489.6 805.3 501.4 806.0 501.4 806.7 495.5 807.4 436.3 808.1 489.6 808.8 471.8 809.5 471.8 810.1 489.6 810.8 489.6 811.5 465.9 812.2 465.9 812.9 477.8 813.6 454.1 814.3 454.1 815.0 477.8 815.7 489.6 816.4 483.7 817.1 489.6 817.8 471.8 818.5 495.5 819.1 495.5 819.8 489.6 820.5 483.7 821.2 465.9 821.9 442.2 822.6 442.2 823.3 483.7 824.0 477.8 824.7 501.4 825.4 465.9 826.0 483.7 826.7 483.7 827.4 471.8 828.1 483.7 828.8 471.8 829.5 460.0 830.2 483.7 830.9 483.7 831.6 489.6 832.3 483.7 833.0 495.5 833.7 489.6 834.4 471.8 835.0 454.1 835.7 483.7 836.4 489.6 837.1 471.8 837.8 495.5 838.5 483.7 839.2 483.7 839.9 483.7 840.6 489.6 841.3 501.4 842.0 501.4 842.6 495.5 843.3 454.1 844.0 477.8 844.7 477.8 845.4 465.9 846.1 465.9 846.8 477.8 847.5 477.8 848.2 465.9 848.9 489.6 849.6 489.6 850.2 483.7 850.9 436.3 851.6 483.7 852.3 489.6 853.0 489.6 853.7 489.6 854.4 483.7 855.1 460.0 855.8 442.2 856.5 465.9 857.2 448.2 857.9 448.2 858.5 465.9 859.2 465.9 859.9 477.8 860.6 477.8 861.3 501.4 862.0 471.8 862.7 465.9 863.4 471.8 864.1 465.9 864.8 483.7"/>
<rect class="f" x="125.5" y="401.5" width="775.0" height="118.0"/>
<path class="f" d="M125.5 413.5h-5 M125.5 442.5h-5 M125.5 472.5h-5 M125.5 501.5h-5"/>
<text x="98.11" y="418.05" font-size="14.1" textLength="16.79" lengthAdjust="spacingAndGlyphs">25</text>
<text x="98.11" y="447.65" font-size="14.1" textLength="16.79" lengthAdjust="spacingAndGlyphs">20</text>
<text x="98.11" y="477.65" font-size="14.1" textLength="16.79" lengthAdjust="spacingAndGlyphs">15</text>
<text x="98.11" y="506.65" font-size="14.1" textLength="16.79" lengthAdjust="spacingAndGlyphs">10</text>
<text transform="translate(88.00 461.50) rotate(-90)" x="-30.11" y="0" font-size="14.1" textLength="60.23" lengthAdjust="spacingAndGlyphs">fieldmax</text>
<path class="f" d="M201.5 519.5v5 M284.5 519.5v5 M367.5 519.5v5 M450.5 519.5v5 M533.5 519.5v5 M616.5 519.5v5 M699.5 519.5v5 M782.5 519.5v5 M865.5 519.5v5"/>
<text transform="translate(199.50 538.80) rotate(-30)" x="-35.35" y="0" font-size="14.1" textLength="35.35" lengthAdjust="spacingAndGlyphs">2020</text>
<text transform="translate(282.50 538.80) rotate(-30)" x="-35.35" y="0" font-size="14.1" textLength="35.35" lengthAdjust="spacingAndGlyphs">2030</text>
<text transform="translate(365.50 538.80) rotate(-30)" x="-35.35" y="0" font-size="14.1" textLength="35.35" lengthAdjust="spacingAndGlyphs">2040</text>
<text transform="translate(448.50 538.80) rotate(-30)" x="-35.35" y="0" font-size="14.1" textLength="35.35" lengthAdjust="spacingAndGlyphs">2050</text>
<text transform="translate(531.50 538.80) rotate(-30)" x="-35.35" y="0" font-size="14.1" textLength="35.35" lengthAdjust="spacingAndGlyphs">2060</text>
<text transform="translate(614.50 538.80) rotate(-30)" x="-35.35" y="0" font-size="14.1" textLength="35.35" lengthAdjust="spacingAndGlyphs">2070</text>
<text transform="translate(697.50 538.80) rotate(-30)" x="-35.35" y="0" font-size="14.1" textLength="35.35" lengthAdjust="spacingAndGlyphs">2080</text>
<text transform="translate(780.50 538.80) rotate(-30)" x="-35.35" y="0" font-size="14.1" textLength="35.35" lengthAdjust="spacingAndGlyphs">2090</text>
<text transform="translate(863.50 538.80) rotate(-30)" x="-35.35" y="0" font-size="14.1" textLength="35.35" lengthAdjust="spacingAndGlyphs">2100</text>
</g>
<g id="ax3">
<rect x="125.5" y="542.5" width="775.0" height="117.0" fill="#fff"/>
<path class="d" stroke-width="2.12" d="M159.73 601.00H865.27"/>
<rect class="f" x="125.5" y="542.5" width="775.0" height="117.0"/>
<path class="f" d="M125.5 547.5h-5 M125.5 601.5h-5 M125.5 654.5h-5"/>
<text x="85.52" y="552.65" font-size="14.1" textLength="29.38" lengthAdjust="spacingAndGlyphs">0.05</text>
<text x="85.52" y="606.65" font-size="14.1" textLength="29.38" lengthAdjust="spacingAndGlyphs">0.00</text>
<text x="74.46" y="658.65" font-size="14.1" textLength="40.44" lengthAdjust="spacingAndGlyphs">−0.05</text>
<text transform="translate(64.60 602.69) rotate(-90)" x="-42.66" y="0" font-size="14.1" textLength="85.32" lengthAdjust="spacingAndGlyphs">nummasked</text>
<path class="f" d="M201.5 659.5v5 M284.5 659.5v5 M367.5 659.5v5 M450.5 659.5v5 M533.5 659.5v5 M616.5 659.5v5 M699.5 659.5v5 M782.5 659.5v5 M865.5 659.5v5"/>
<text transform="translate(199.50 678.80) rotate(-30)" x="-35.35" y="0" font-size="14.1" textLength="35.35" lengthAdjust="spacingAndGlyphs">2020</text>
<text transform="translate(282.50 678.80) rotate(-30)" x="-35.35" y="0" font-size="14.1" textLength="35.35" lengthAdjust="spacingAndGlyphs">2030</text>
<text transform="translate(365.50 678.80) rotate(-30)" x="-35.35" y="0" font-size="14.1" textLength="35.35" lengthAdjust="spacingAndGlyphs">2040</text>
<text transform="translate(448.50 678.80) rotate(-30)" x="-35.35" y="0" font-size="14.1" textLength="35.35" lengthAdjust="spacingAndGlyphs">2050</text>
<text transform="translate(531.50 678.80) rotate(-30)" x="-35.35" y="0" font-size="14.1" textLength="35.35" lengthAdjust="spacingAndGlyphs">2060</text>
<text transform="translate(614.50 678.80) rotate(-30)" x="-35.35" y="0" font-size="14.1" textLength="35.35" lengthAdjust="spacingAndGlyphs">2070</text>
<text transform="translate(697.50 678.80) rotate(-30)" x="-35.35" y="0" font-size="14.1" textLength="35.35" lengthAdjust="spacingAndGlyphs">2080</text>
<text transform="translate(780.50 678.80) rotate(-30)" x="-35.35" y="0" font-size="14.1" textLength="35.35" lengthAdjust="spacingAndGlyphs">2090</text>
<text transform="translate(863.50 678.80) rotate(-30)" x="-35.35" y="0" font-size="14.1" textLength="35.35" lengthAdjust="spacingAndGlyphs">2100</text>
</g>
<g id="ax4">
<rect x="125.5" y="683.5" width="775.0" height="117.0" fill="#fff"/>
<path class="d" stroke-width="2.12" d="M159.73 741.00H865.27"/>
<rect class="f" x="125.5" y="683.5" width="775.0" height="117.0"/>
<path class="f" d="M125.5 688.5h-5 M125.5 741.5h-5 M125.5 795.5h-5"/>
<text x="85.52" y="693.65" font-size="14.1" textLength="29.38" lengthAdjust="spacingAndGlyphs">0.05</text>
<text x="85.52" y="746.65" font-size="14.1" textLength="29.38" lengthAdjust="spacingAndGlyphs">0.00</text>
<text x="74.46" y="799.65" font-size="14.1" textLength="40.44" lengthAdjust="spacingAndGlyphs">−0.05</text>
<text transform="translate(64.60 743.38) rotate(-90)" x="-28.63" y="0" font-size="14.1" textLength="57.25" lengthAdjust="spacingAndGlyphs">numnan</text>
<path class="f" d="M201.5 800.5v5 M284.5 800.5v5 M367.5 800.5v5 M450.5 800.5v5 M533.5 800.5v5 M616.5 800.5v5 M699.5 800.5v5 M782.5 800.5v5 M865.5 800.5v5"/>
<text transform="translate(199.50 819.80) rotate(-30)" x="-35.35" y="0" font-size="14.1" textLength="35.35" lengthAdjust="spacingAndGlyphs">2020</text>
<text transform="translate(282.50 819.80) rotate(-30)" x="-35.35" y="0" font-size="14.1" textLength="35.35" lengthAdjust="spacingAndGlyphs">2030</text>
<text transform="translate(365.50 819.80) rotate(-30)" x="-35.35" y="0" font-size="14.1" textLength="35.35" lengthAdjust="spacingAndGlyphs">2040</text>
<text transform="translate(448.50 819.80) rotate(-30)" x="-35.35" y="0" font-size="14.1" textLength="35.35" lengthAdjust="spacingAndGlyphs">2050</text>
<text transform="translate(531.50 819.80) rotate(-30)" x="-35.35" y="0" font-size="14.1" textLength="35.35" lengthAdjust="spacingAndGlyphs">2060</text>
<text transform="translate(614.50 819.80) rotate(-30)" x="-35.35" y="0" font-size="14.1" textLength="35.35" lengthAdjust="spacingAndGlyphs">2070</text>
<text transform="translate(697.50 819.80) rotate(-30)" x="-35.35" y="0" font-size="14.1" textLength="35.35" lengthAdjust="spacingAndGlyphs">2080</text>
<text transform="translate(780.50 819.80) rotate(-30)" x="-35.35" y="0" font-size="14.1" textLength="35.35" lengthAdjust="spacingAndGlyphs">2090</text>
<text transform="translate(863.50 819.80) rotate(-30)" x="-35.35" y="0" font-size="14.1" textLength="35.35" lengthAdjust="spacingAndGlyphs">2100</text>
</g>
<text x="303.63" y="111.70" font-size="16.9" textLength="417.74" lengthAdjust="spacingAndGlyphs">R95p, lev=0, 20150116T0000 to 20991216T0000</text>
<text x="480.18" y="856.00" font-size="14.1" textLength="64.64" lengthAdjust="spacingAndGlyphs">validtime</text>
</svg></body></html>
